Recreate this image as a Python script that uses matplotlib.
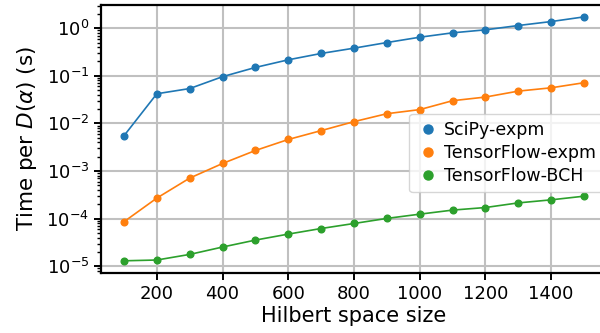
import matplotlib
matplotlib.use("Agg")
import matplotlib.pyplot as plt
from matplotlib.lines import Line2D


sizes = [100, 200, 300, 400, 500, 600, 700, 800, 900, 1000, 1100, 1200, 1300, 1400, 1500]

scipy_expm = [5.5e-3, 0.042, 0.054, 0.096, 0.15, 0.217, 0.295, 0.381, 0.50,
              0.647, 0.80, 0.925, 1.14, 1.38, 1.73]
tf_expm = [8.6e-5, 2.7e-4, 7.1e-4, 1.44e-3, 2.7e-3, 4.6e-3, 7.06e-3, 0.0109,
           0.016, 0.0195, 0.030, 0.0358, 0.0477, 0.056, 0.0716]
tf_bch = [1.30e-5, 1.35e-5, 1.77e-5, 2.53e-5, 3.54e-5, 4.73e-5, 6.2e-5, 7.9e-5,
          1.01e-4, 1.24e-4, 1.51e-4, 1.71e-4, 2.14e-4, 2.48e-4, 2.96e-4]

labels = ["SciPy-expm", "TensorFlow-expm", "TensorFlow-BCH"]
colors = ["#1f77b4", "#ff7f0e", "#2ca02c"]

fig = plt.figure(figsize=(6, 3.33), dpi=100)
# axes runs past the right edge, like the cropped original
ax = fig.add_axes([0.1683, 0.1802, 0.8433, 0.8057])

for vals, c in zip([scipy_expm, tf_expm, tf_bch], colors):
    ax.plot(sizes, vals, "-o", color=c, lw=1.2, ms=4.8)

ax.set_yscale("log")
ax.grid(True, color="#c0c0c0", lw=1.5)
ax.set_axisbelow(True)
for s in ax.spines.values():
    s.set_linewidth(1.6)
    s.set_color("black")

ax.tick_params(labelsize=13, width=1.4, length=5)
ax.tick_params(which="minor", width=1.0, length=3)
ax.set_xticks([200, 400, 600, 800, 1000, 1200, 1400])

ax.set_xlabel("Hilbert space size", fontsize=15, labelpad=2)
ax.set_ylabel(r"Time per $D(\alpha)$ (s)", fontsize=15.5, labelpad=5)

handles = [Line2D([], [], marker="o", ls="", color=c, ms=6.5) for c in colors]
ax.legend(handles, labels, fontsize=12.5, loc="upper left",
          bbox_to_anchor=(0.609, 0.593), borderaxespad=0,
          handletextpad=0.2, handlelength=1.4, borderpad=0.4,
          labelspacing=0.3)

plt.savefig("out.png", dpi=100)
plt.close()
